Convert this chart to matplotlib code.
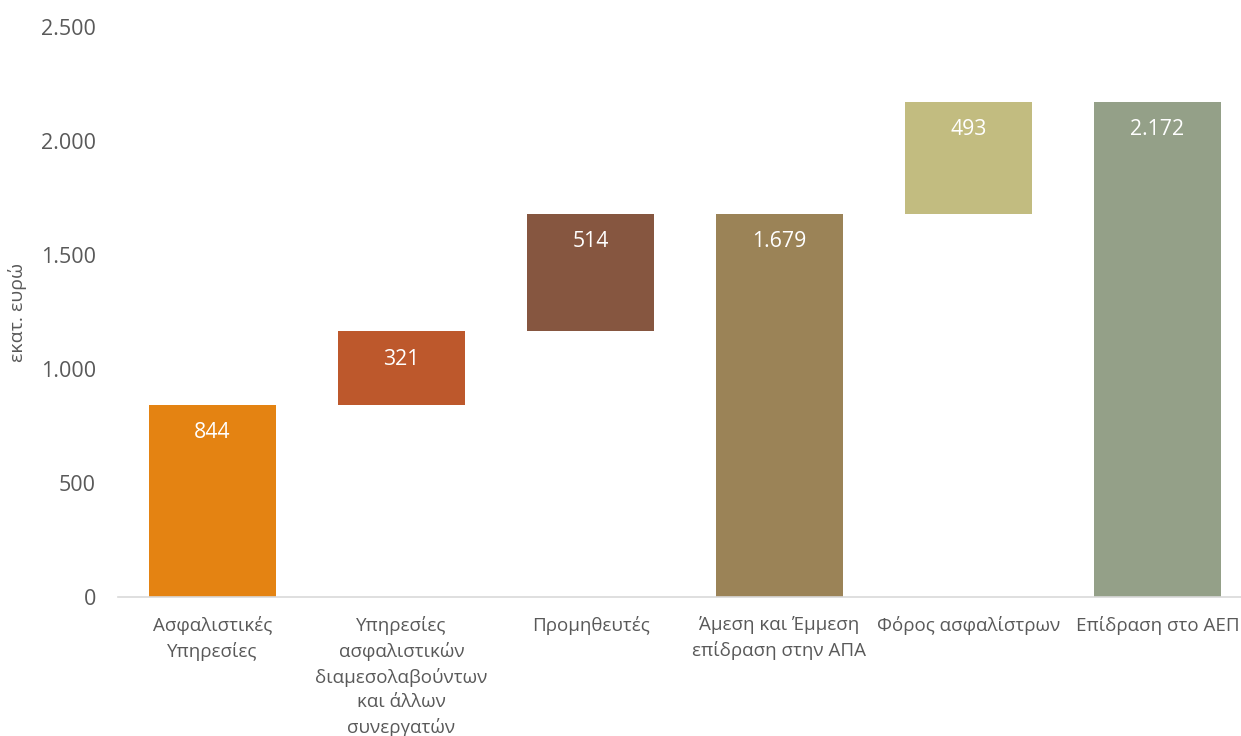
import matplotlib
matplotlib.use("Agg")
import matplotlib.pyplot as plt
from matplotlib.ticker import FuncFormatter

categories = [
    "Ασφαλιστικές\nΥπηρεσίες",
    "Υπηρεσίες\nασφαλιστικών\nδιαμεσολαβούντων\nκαι άλλων\nσυνεργατών",
    "Προμηθευτές",
    "Άμεση και Έμμεση\nεπίδραση στην ΑΠΑ",
    "Φόρος ασφαλίστρων",
    "Επίδραση στο ΑΕΠ",
]
values = [844, 321, 514, 1679, 493, 2172]
is_total = [False, False, False, True, False, True]
colors = ["#E48312", "#BD582C", "#865640", "#9B8357", "#C2BC80", "#94A088"]
yticks = [0, 500, 1000, 1500, 2000, 2500]

plt.rcParams['font.family'] = ['Open Sans', 'DejaVu Sans']

fig = plt.figure(figsize=(12.41, 7.36), dpi=100)
ax = fig.add_axes([118/1241, 139/736, 1134/1241, 570/736])

bottoms = []
running = 0
for v, t in zip(values, is_total):
    if t:
        bottoms.append(0)
        running = v
    else:
        bottoms.append(running)
        running += v

x = list(range(len(values)))
bars = ax.bar(x, values, bottom=bottoms, width=0.672, color=colors, zorder=2)

def fmt(v):
    return f"{v:,}".replace(",", ".")

for xi, v, b in zip(x, values, bottoms):
    ax.annotate(fmt(v), xy=(xi, b + v), xytext=(0, -20), textcoords="offset points",
                ha="center", va="center", color="white", fontsize=15.3)

ax.set_xlim(-0.5, 5.5)
ax.set_ylim(0, 2500)
ax.set_yticks(yticks)
ax.yaxis.set_major_formatter(FuncFormatter(lambda v, p: fmt(int(v))))
ax.set_xticks(x)
ax.set_xticklabels(categories, fontsize=13.5, color="#595959", linespacing=1.45)
ax.tick_params(axis="y", length=0, pad=16, labelsize=15.5, labelcolor="#595959")
ax.tick_params(axis="x", length=0, pad=14)
for s in ["top", "right", "left"]:
    ax.spines[s].set_visible(False)
ax.spines["bottom"].set_color("#D9D9D9")
ax.spines["bottom"].set_linewidth(1.2)
ax.set_ylabel("εκατ. ευρώ", fontsize=14, color="#595959", labelpad=10)

fig.savefig("out.png", dpi=100)
